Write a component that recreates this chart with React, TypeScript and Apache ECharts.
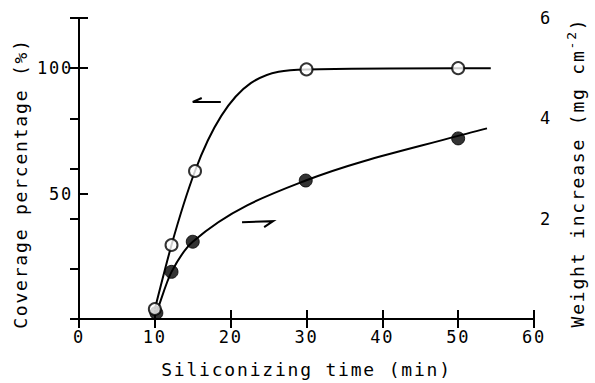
import React, { useEffect, useRef } from "react";
import * as echarts from "echarts";

// Coverage percentage (%) — open circles, left axis
const coverageTime = [10, 12.2, 15.3, 30, 50];
const coverageValue = [4, 29.5, 59, 99.5, 100];
// Weight increase (mg cm^-2) — filled circles, right axis
const weightTime = [10.2, 12.2, 15, 29.9, 50];
const weightValue = [0.12, 0.94, 1.54, 2.76, 3.6];
// knots of the hand-drawn smooth curves
const coverageCurveTime = [10, 12.2, 15.3, 30, 50, 54.3];
const coverageCurveValue = [4, 29.5, 59, 99.5, 100, 100];
const weightCurveTime = [10.2, 12.2, 15, 29.9, 50, 53.8];
const weightCurveValue = [0.12, 0.94, 1.54, 2.76, 3.65, 3.8];

const xTicks = [0, 10, 20, 30, 40, 50, 60];
const leftLabels = [50, 100];
const rightLabels = [2, 4, 6];

// annotation arrows (data coordinates)
const leftArrow = { from: [18.7, 86.5], to: [15.0, 86.5] };
const rightArrow = { from: [21.5, 1.93], to: [25.6, 1.95] };

const FONT = "DejaVu Sans Mono";
const LS = 1.8;

// monotone cubic through knots, returns bezier segments in data space
function monotoneSegments(xs: number[], ys: number[], harmonic: boolean) {
  const n = xs.length;
  const h: number[] = [];
  const d: number[] = [];
  for (let i = 0; i < n - 1; i++) {
    h[i] = xs[i + 1] - xs[i];
    d[i] = (ys[i + 1] - ys[i]) / h[i];
  }
  const m: number[] = new Array(n).fill(0);
  m[0] = d[0];
  m[n - 1] = d[n - 2];
  for (let i = 1; i < n - 1; i++) {
    if (d[i - 1] * d[i] <= 0) {
      m[i] = 0;
    } else if (harmonic) {
      const w1 = 2 * h[i] + h[i - 1];
      const w2 = h[i] + 2 * h[i - 1];
      m[i] = (w1 + w2) / (w1 / d[i - 1] + w2 / d[i]);
    } else {
      m[i] = (d[i - 1] * h[i] + d[i] * h[i - 1]) / (h[i - 1] + h[i]);
    }
  }
  for (let i = 0; i < n - 1; i++) {
    if (d[i] === 0) {
      m[i] = 0;
      m[i + 1] = 0;
      continue;
    }
    const a = m[i] / d[i];
    const b = m[i + 1] / d[i];
    const s = a * a + b * b;
    if (s > 9) {
      const t = 3 / Math.sqrt(s);
      m[i] = t * a * d[i];
      m[i + 1] = t * b * d[i];
    }
  }
  const segs: number[][][] = [];
  for (let i = 0; i < n - 1; i++) {
    segs.push([
      [xs[i] + h[i] / 3, ys[i] + (m[i] * h[i]) / 3],
      [xs[i + 1] - h[i] / 3, ys[i + 1] - (m[i + 1] * h[i]) / 3],
      [xs[i + 1], ys[i + 1]],
    ]);
  }
  return segs;
}

function curveSeries(xs: number[], ys: number[], yAxisIndex: number, harmonic: boolean) {
  const segs = monotoneSegments(xs, ys, harmonic);
  return {
    type: "custom",
    xAxisIndex: 0,
    yAxisIndex,
    data: [[xs[0], ys[0]]],
    clip: false,
    z: 2,
    silent: true,
    renderItem: (params: any, api: any) => {
      if (params.dataIndex !== 0) return null;
      const p0 = api.coord([xs[0], ys[0]]);
      let d = `M${p0[0]} ${p0[1]}`;
      for (const s of segs) {
        const c1 = api.coord(s[0]);
        const c2 = api.coord(s[1]);
        const e = api.coord(s[2]);
        d += ` C${c1[0]} ${c1[1]} ${c2[0]} ${c2[1]} ${e[0]} ${e[1]}`;
      }
      return {
        type: "path",
        shape: { pathData: d },
        style: { stroke: "#000", lineWidth: 2, fill: "none" },
      };
    },
  };
}

export default function App() {
  const ref = useRef<HTMLDivElement>(null);
  useEffect(() => {
    const chart = echarts.init(ref.current!, null, { renderer: "svg" });
    const axisLine = { show: true, lineStyle: { color: "#000", width: 2 } };
    const axisTick = { show: true, inside: true, length: 9, lineStyle: { color: "#000", width: 2 } };
    const labelStyle = { color: "#000", fontFamily: FONT, fontSize: 17 };
    const coveragePts = coverageTime.map((t, i) => [t, coverageValue[i]]);
    const weightPts = weightTime.map((t, i) => [t, weightValue[i]]);
    chart.setOption({
      animation: false,
      grid: { left: 79, right: 61, top: 18, bottom: 60 },
      xAxis: [
        {
          type: "value",
          position: "bottom",
          min: xTicks[0],
          max: xTicks[xTicks.length - 1],
          interval: 10,
          axisLine,
          axisTick,
          splitLine: { show: false },
          axisLabel: { ...labelStyle, margin: 9 },
          name: "Siliconizing time (min)",
          nameLocation: "middle",
          nameGap: 41,
          nameTextStyle: { color: "#000", fontFamily: FONT, fontSize: 18 },
        },
        {
          type: "value",
          position: "top",
          min: xTicks[0],
          max: xTicks[xTicks.length - 1],
          interval: 10,
          axisLine,
          axisTick,
          splitLine: { show: false },
          axisLabel: { show: false },
        },
      ],
      yAxis: [
        {
          type: "value",
          position: "left",
          min: 0,
          max: 120,
          interval: 50,
          axisLine,
          axisTick,
          splitLine: { show: false },
          axisLabel: {
            ...labelStyle,
            margin: 6,
            formatter: (v: number) => (leftLabels.includes(v) ? String(v) : ""),
          },
          name: "Coverage percentage (%)",
          nameLocation: "middle",
          nameRotate: 90,
          nameGap: 50,
          nameTextStyle: { color: "#000", fontFamily: FONT, fontSize: 18, padding: [0, 30, 0, 0] },
        },
        {
          type: "value",
          position: "right",
          min: 0,
          max: 6,
          interval: 1,
          axisLine,
          axisTick,
          splitLine: { show: false },
          axisLabel: {
            ...labelStyle,
            margin: 6,
            formatter: (v: number) => (rightLabels.includes(v) ? String(v) : ""),
          },
        },
      ],
      series: [
        curveSeries(coverageCurveTime, coverageCurveValue, 0, false),
        curveSeries(weightCurveTime, weightCurveValue, 1, true),
        {
          type: "scatter",
          xAxisIndex: 0,
          yAxisIndex: 1,
          data: weightPts,
          symbol: "circle",
          symbolSize: 13,
          itemStyle: { color: "#000", borderColor: "#000", borderWidth: 1 },
          z: 3,
        },
        {
          type: "scatter",
          xAxisIndex: 0,
          yAxisIndex: 0,
          data: coveragePts,
          symbol: "circle",
          symbolSize: 12,
          itemStyle: { color: "#fff", borderColor: "#000", borderWidth: 2 },
          z: 4,
        },
      ],
    });

    const px = (p: number[], yi: number) =>
      chart.convertToPixel({ xAxisIndex: 0, yAxisIndex: yi }, p) as number[];
    const la0 = px(leftArrow.from, 0);
    const la1 = px(leftArrow.to, 0);
    const ra0 = px(rightArrow.from, 1);
    const ra1 = px(rightArrow.to, 1);
    const stroke = { stroke: "#000", lineWidth: 2, fill: "none" };

    // right axis title with superscript (monospace advances incl. letter spacing)
    const adv18 = 18 * 0.602 + LS;
    const adv13 = 13 * 0.602 + LS;
    const mainText = "Weight increase (mg cm";
    const total = (mainText.length + 1) * adv18 + 2 * adv13;
    const x0 = -total / 2;
    const top = px([60, 6], 1);
    const bottom = px([60, 0], 1);
    const cy = (top[1] + bottom[1]) / 2 + 4;
    const tStyle = { fill: "#000", fontFamily: FONT, fontSize: 18, align: "left", verticalAlign: "middle" };
    chart.setOption({
      graphic: [
        { type: "polyline", shape: { points: [la0, la1, [la1[0] + 9, la1[1] - 4]] }, style: stroke },
        { type: "polyline", shape: { points: [ra0, ra1, [ra1[0] - 9, ra1[1] + 6]] }, style: stroke },
        {
          type: "group",
          x: top[0] + 43,
          y: cy,
          rotation: Math.PI / 2,
          children: [
            { type: "text", x: x0, y: 0, style: { ...tStyle, text: mainText } },
            {
              type: "text",
              x: x0 + mainText.length * adv18,
              y: -6,
              style: { ...tStyle, fontSize: 13, text: "-2" },
            },
            {
              type: "text",
              x: x0 + mainText.length * adv18 + 2 * adv13,
              y: 0,
              style: { ...tStyle, text: ")" },
            },
          ],
        },
      ],
    });
    return () => chart.dispose();
  }, []);
  return (
    <>
      <style>{`body{margin:0} .chartbox text{letter-spacing:${LS}px}`}</style>
      <div
        ref={ref}
        className="chartbox"
        style={{ position: "fixed", left: 0, top: 0, width: 595, height: 383, background: "#fff" }}
      />
    </>
  );
}
